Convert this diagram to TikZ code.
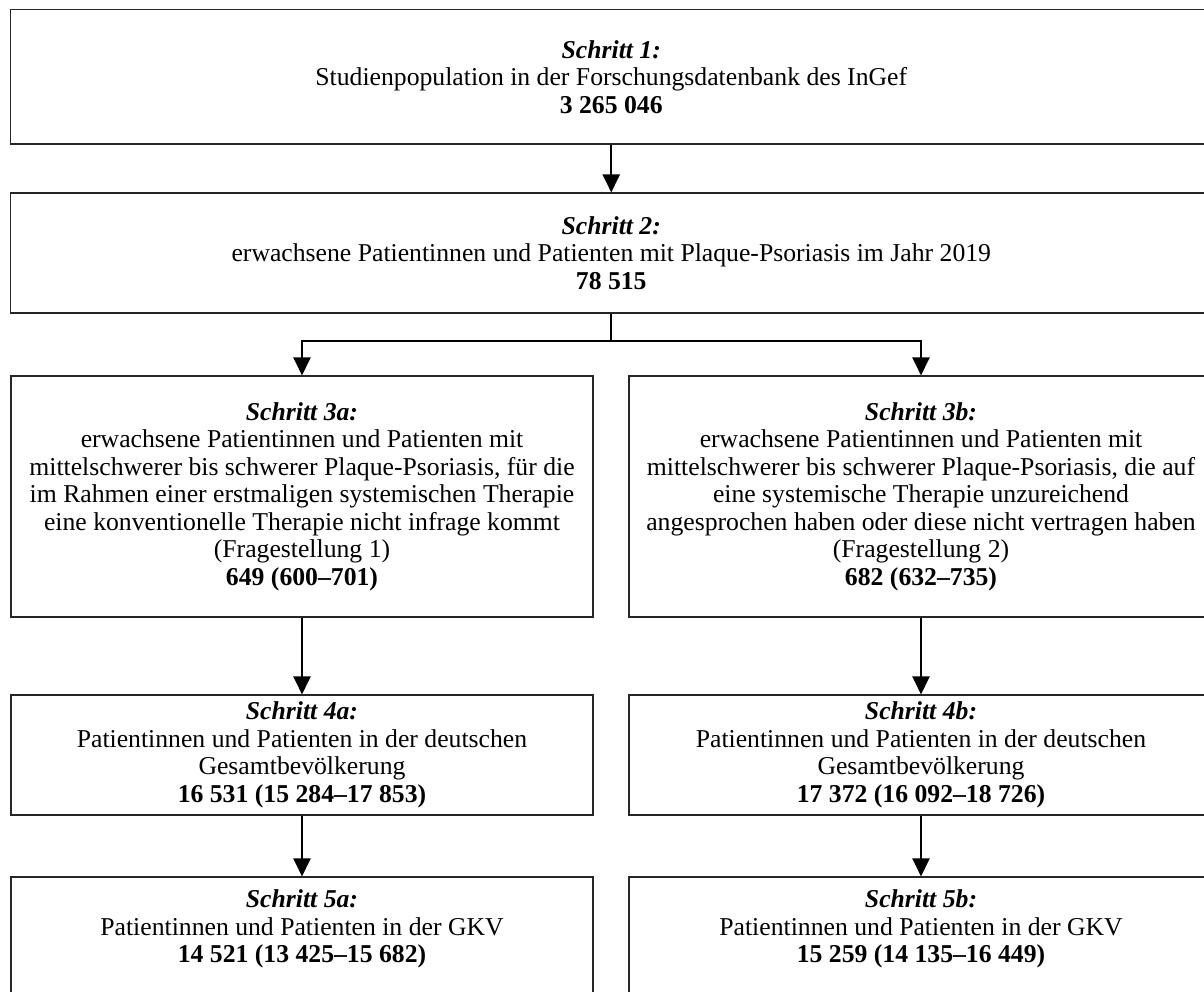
\documentclass[tikz,border=0pt]{standalone}
\usepackage{fontspec}
\setmainfont{Liberation Serif}
\usetikzlibrary{arrows.meta}
\newcommand\boxfont{\fontsize{25.7pt}{27.5pt}\selectfont}
\tikzset{
  stepbox/.style={draw=black!85, line width=1.1pt, align=center, inner sep=0pt, font=\boxfont},
  plaintext/.style={align=center, inner sep=0pt, font=\boxfont},
  conn/.style={line width=2.2pt, -{Triangle[length=18pt,width=17pt]}},
  connplain/.style={line width=2.2pt}
}
\newcommand\stp[1]{\textbf{\textit{#1}}}
\begin{document}
\begin{tikzpicture}[x=1pt,y=-1pt]
\useasboundingbox (0,0) rectangle (1204,992);
\clip (0,0) rectangle (1204,992);
\fill[white] (0,0) rectangle (1204,992);

\node[stepbox, minimum width=1201.5pt, minimum height=134.5pt] (b1) at (611.25,76.75)
  {\stp{Schritt 1:}\\Studienpopulation in der Forschungsdatenbank des InGef\\\textbf{3 265 046}};
\node[stepbox, minimum width=1201.5pt, minimum height=120pt] (b2) at (611.25,253)
  {\stp{Schritt 2:}\\erwachsene Patientinnen und Patienten mit Plaque-Psoriasis im Jahr 2019\\\textbf{78 515}};

\node[stepbox, minimum width=582pt, minimum height=241pt] (b3a) at (302,496.5)
  {\stp{Schritt 3a:}\\erwachsene Patientinnen und Patienten mit\\mittelschwerer bis schwerer Plaque-Psoriasis, für die\\im Rahmen einer erstmaligen systemischen Therapie\\eine konventionelle Therapie nicht infrage kommt\\(Fragestellung 1)\\\textbf{649 (600–701)}};
\node[stepbox, minimum width=584pt, minimum height=241pt] (b3b) at (921,496.5)
  {\stp{Schritt 3b:}\\erwachsene Patientinnen und Patienten mit\\mittelschwerer bis schwerer Plaque-Psoriasis, die auf\\eine systemische Therapie unzureichend\\angesprochen haben oder diese nicht vertragen haben\\(Fragestellung 2)\\\textbf{682 (632–735)}};

\node[stepbox, minimum width=582pt, minimum height=120pt] (b4a) at (302,755)
  {\stp{Schritt 4a:}\\Patientinnen und Patienten in der deutschen\\Gesamtbevölkerung\\\textbf{16 531 (15 284–17 853)}};
\node[stepbox, minimum width=584pt, minimum height=120pt] (b4b) at (921,755)
  {\stp{Schritt 4b:}\\Patientinnen und Patienten in der deutschen\\Gesamtbevölkerung\\\textbf{17 372 (16 092–18 726)}};

\node[stepbox, minimum width=582pt, minimum height=125pt] (b5a) at (302,939.5) {};
\node[stepbox, minimum width=584pt, minimum height=125pt] (b5b) at (921,939.5) {};
\node[plaintext] (t5a) at (302,929)
  {\stp{Schritt 5a:}\\Patientinnen und Patienten in der GKV\\\textbf{14 521 (13 425–15 682)}};
\node[plaintext] (t5b) at (921,929)
  {\stp{Schritt 5b:}\\Patientinnen und Patienten in der GKV\\\textbf{15 259 (14 135–16 449)}};

\coordinate (jn) at (611.25,341);
\draw[conn] (b1) -- (b2);
\draw[connplain] (b2.south) -- (jn);
\draw[conn] (jn) -| (b3a);
\draw[conn] (jn) -| (b3b);
\draw[conn] (b3a) -- (b4a);
\draw[conn] (b3b) -- (b4b);
\draw[conn] (b4a) -- (b5a);
\draw[conn] (b4b) -- (b5b);
\end{tikzpicture}
\end{document}
